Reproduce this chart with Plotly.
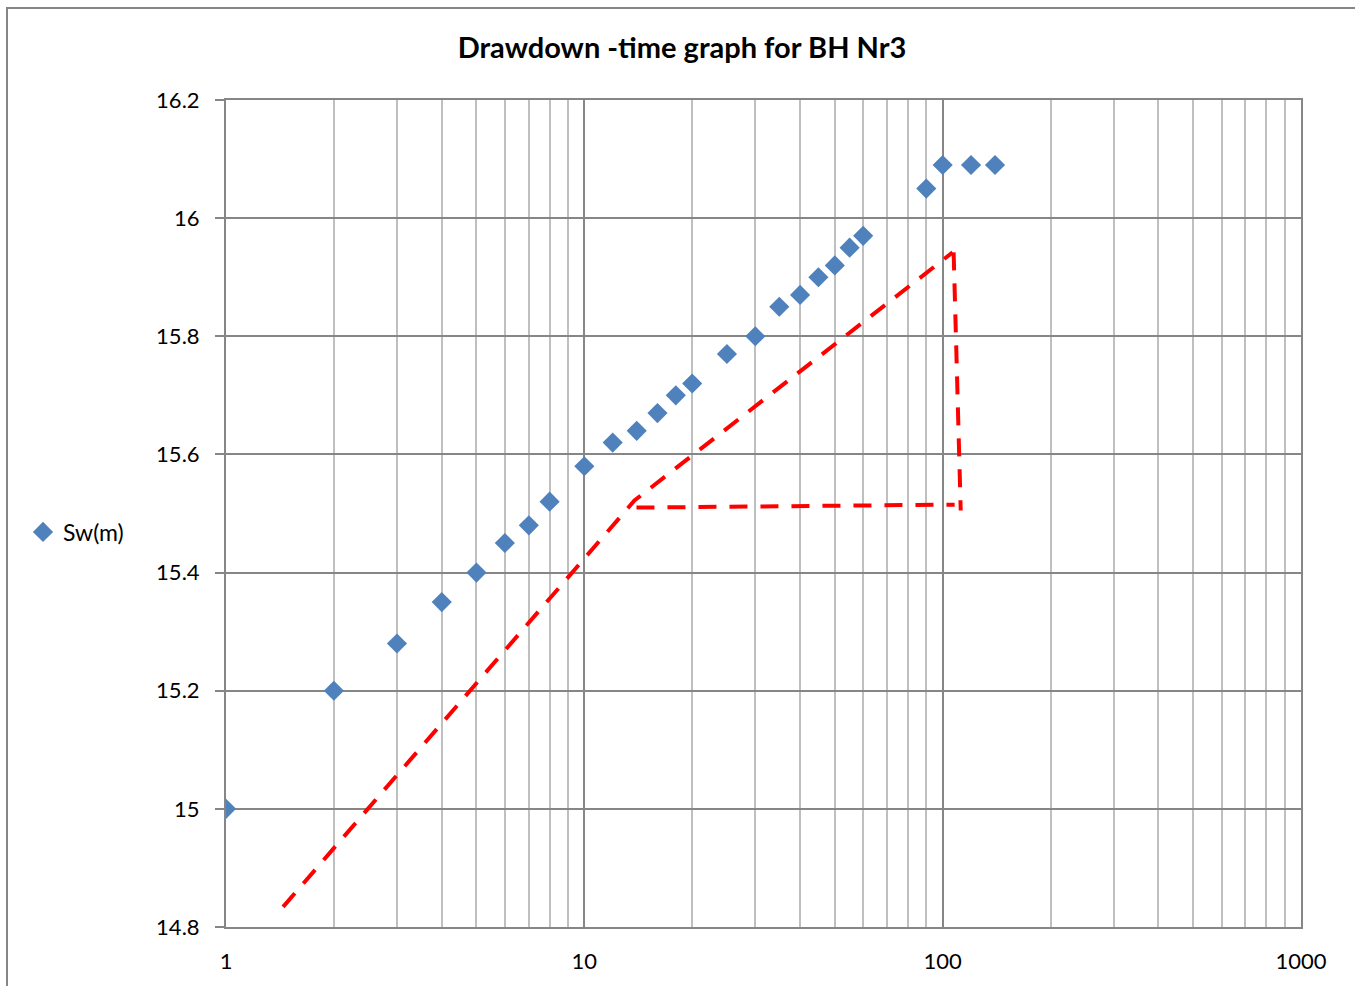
import plotly.graph_objects as go

# data
t_min = [1, 2, 3, 4, 5, 6, 7, 8, 10, 12, 14, 16, 18, 20, 25, 30, 35, 40, 45, 50, 55, 60, 90, 100, 120, 140]
sw_m = [15.0, 15.2, 15.28, 15.35, 15.4, 15.45, 15.48, 15.52, 15.58, 15.62, 15.64, 15.67, 15.7, 15.72,
        15.77, 15.8, 15.85, 15.87, 15.9, 15.92, 15.95, 15.97, 16.05, 16.09, 16.09, 16.09]

# red dashed construction lines (data units)
fit_x = [1.443, 13.8, 106.6]
fit_y = [14.834, 15.522, 15.942]
horiz_x = [13.98, 108.0]
horiz_y = [15.510, 15.515]
vert_x = [107.3, 112.3]
vert_y = [15.942, 15.505]

x_major = [1, 10, 100, 1000]
x_labels = ["1", "10", "100", "1000"]
x_minor = [m * d for d in (1, 10, 100) for m in range(2, 10)]

W, H = 1355, 986
L, R, T, B = 226, 1301, 100, 927

fig = go.Figure()
red_line = dict(color="#FF0000", width=4, dash="18px,13px")
for xs, ys in ((fit_x, fit_y), (horiz_x, horiz_y), (vert_x, vert_y)):
    fig.add_trace(go.Scatter(x=xs, y=ys, mode="lines", line=red_line, showlegend=False, hoverinfo="skip"))

fig.add_trace(go.Scatter(x=t_min, y=sw_m, mode="markers", name="Sw(m)",
                         marker=dict(symbol="diamond", size=15.5, color="#4F81BD")))

fig.update_layout(
    width=W, height=H,
    margin=dict(l=L, r=W - R, t=T, b=H - B),
    paper_bgcolor="white", plot_bgcolor="white",
    font=dict(family="Lato, Calibri, sans-serif", size=22, color="black"),
    title=dict(text="<b>Drawdown -time graph for BH Nr3</b>", x=682 / W, xref="container", xanchor="center",
               y=1 - 48 / H, yref="container", yanchor="middle", font=dict(size=29)),
    legend=dict(x=(23 - L) / (R - L), xanchor="left", y=(B - 532) / (B - T), yanchor="middle",
                bgcolor="rgba(0,0,0,0)", font=dict(size=23), itemwidth=30),
    showlegend=True,
)
fig.update_xaxes(type="log", range=[0, 3], tickvals=x_major, ticktext=x_labels,
                 showgrid=True, gridcolor="#868686", gridwidth=1.5,
                 showline=True, linecolor="#868686", linewidth=2, mirror=True,
                 ticks="", zeroline=False, ticklabelstandoff=14,
                 minor=dict(tickvals=x_minor, showgrid=True, gridcolor="#BFBFBF", gridwidth=1.5, ticks=""))
fig.update_yaxes(range=[14.8, 16.2], dtick=0.2, tick0=14.8,
                 showgrid=True, gridcolor="#868686", gridwidth=1.5,
                 showline=True, linecolor="#868686", linewidth=2, mirror=True,
                 ticks="outside", ticklen=9, tickcolor="#868686", tickwidth=1.5, zeroline=False,
                 ticklabelstandoff=11)

# outer chart-area border
fig.add_shape(type="rect", xref="paper", yref="paper",
              x0=(7 - L) / (R - L), x1=(1365 - L) / (R - L),
              y0=(B - 1000) / (B - T), y1=(B - 8) / (B - T),
              line=dict(color="#868686", width=2), fillcolor="rgba(0,0,0,0)", layer="below")

fig.write_html("out.html")
